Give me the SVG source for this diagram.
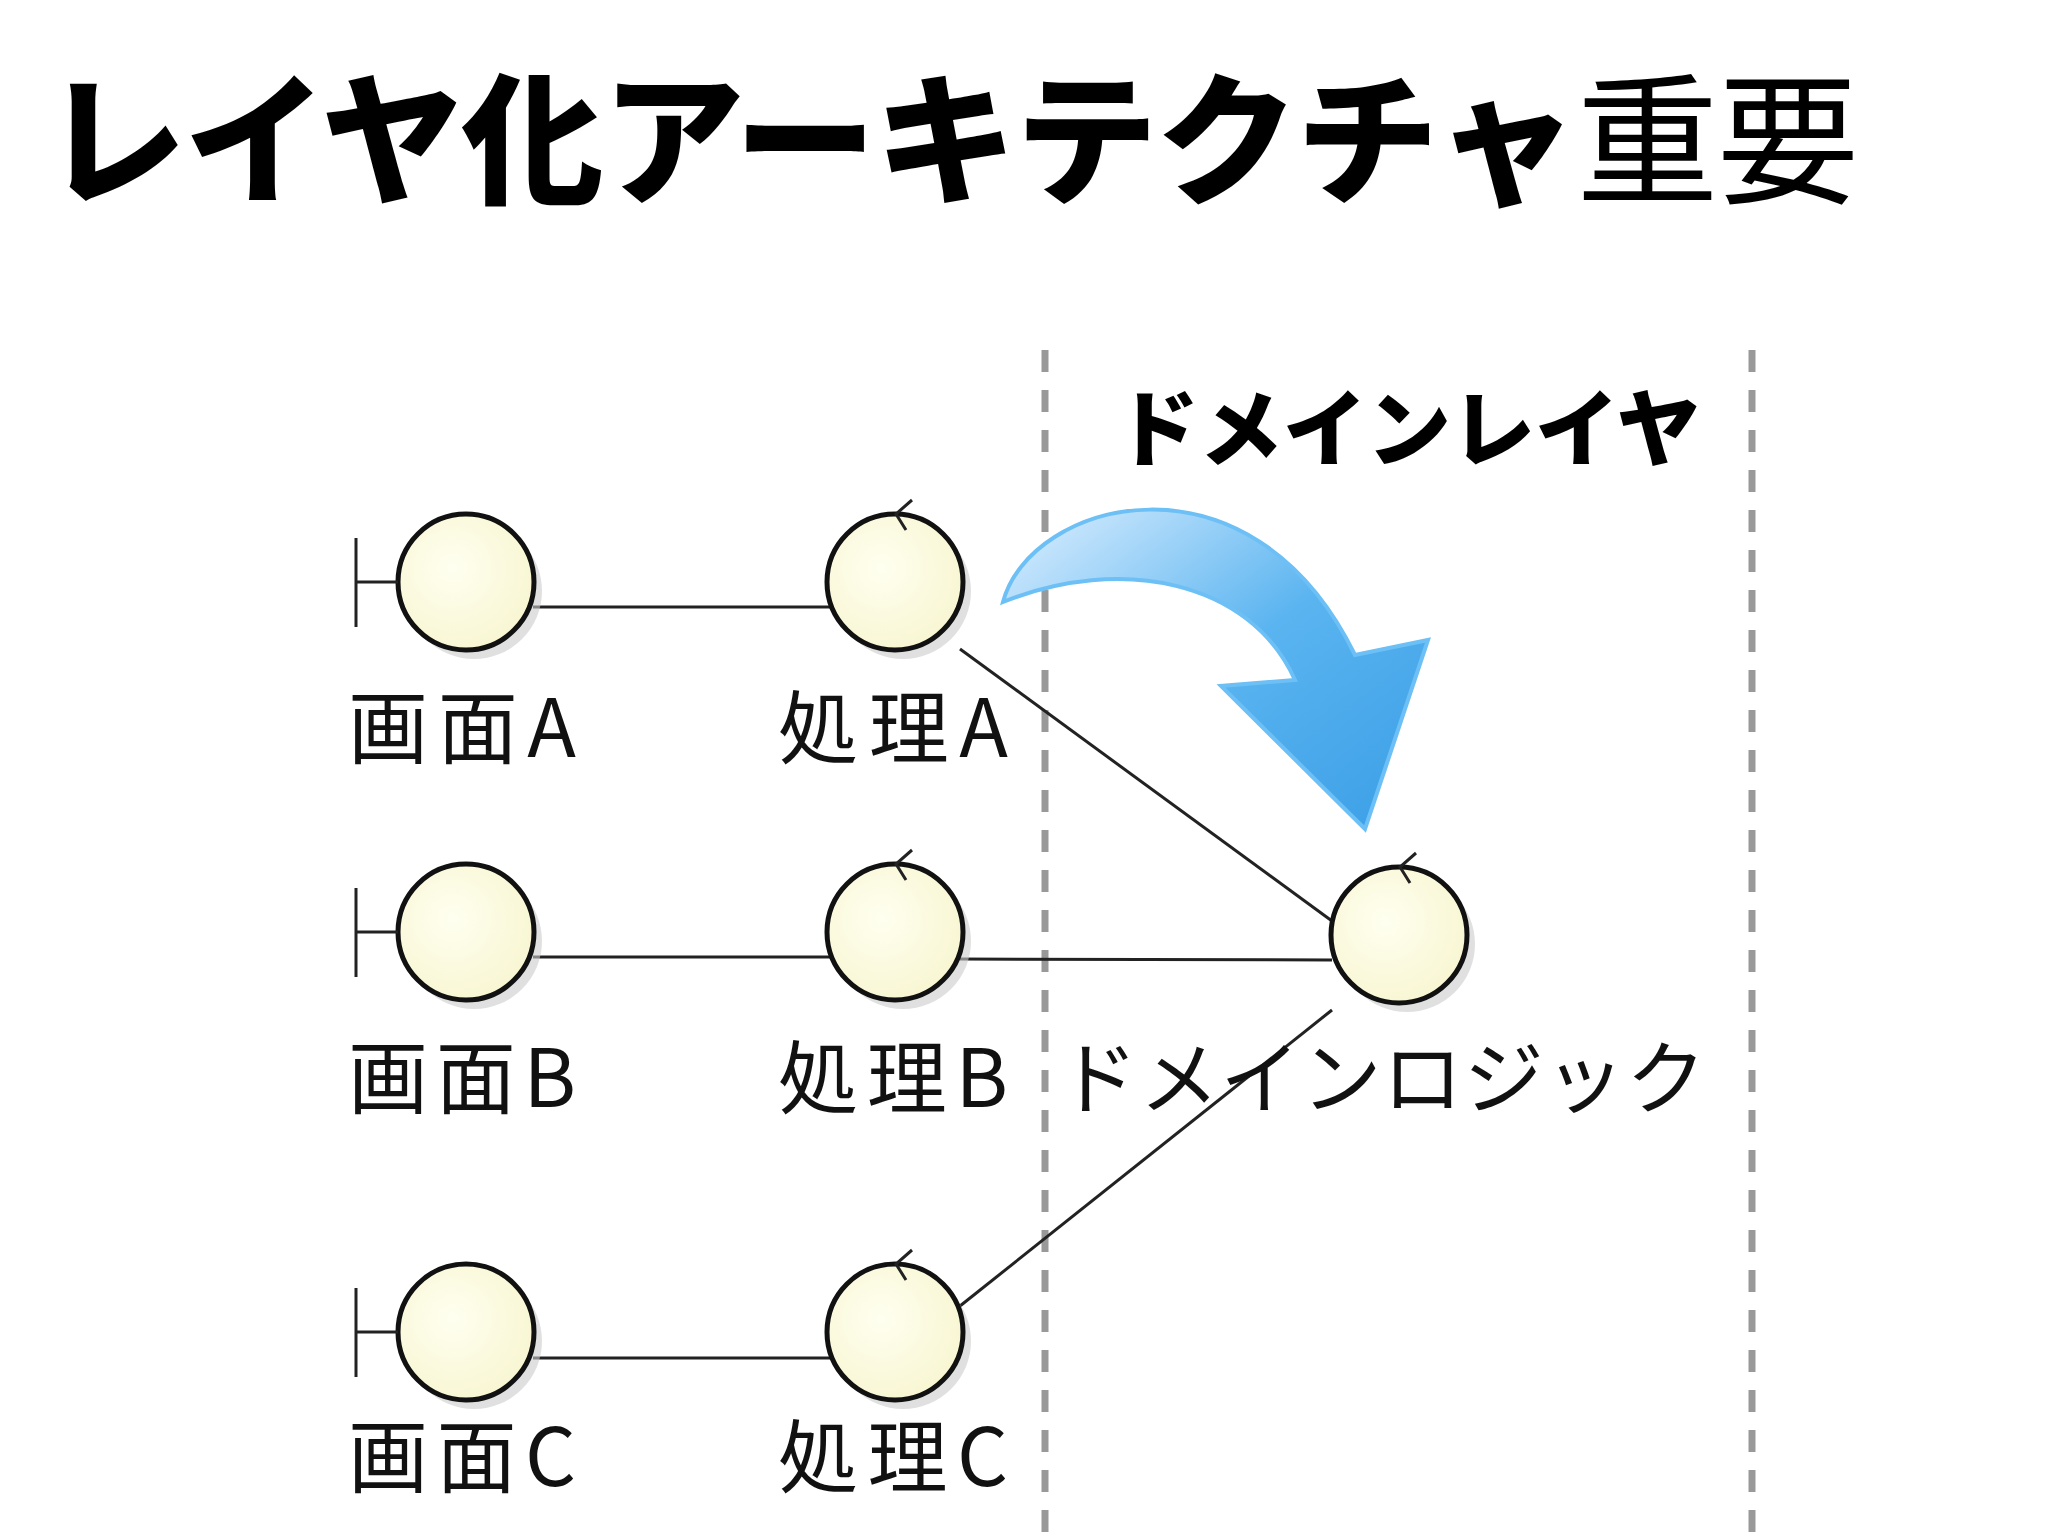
<svg xmlns="http://www.w3.org/2000/svg" width="2048" height="1536" viewBox="0 0 2048 1536">
<defs>
<style>
.c{fill:url(#cg);stroke:#111;stroke-width:5}
.sh{fill:#ccc;opacity:0.6}
.ln{stroke:#222;stroke-width:3;fill:none}
.lb{font-family:"Noto Sans CJK JP","Liberation Sans",sans-serif;font-size:80px;fill:#111}
.dash{stroke:#999;stroke-width:7;stroke-dasharray:22,18}
</style>
<radialGradient id="cg" cx="0.4" cy="0.4" r="0.7"><stop offset="0" stop-color="#fffff0"/><stop offset="1" stop-color="#f7f5cf"/></radialGradient>
<linearGradient id="ag" x1="0" y1="0" x2="1" y2="1"><stop offset="0" stop-color="#dff0ff"/><stop offset="0.5" stop-color="#5ab4f0"/><stop offset="1" stop-color="#3a9ee6"/></linearGradient>
</defs>
<rect width="2048" height="1536" fill="#fff"/>
<text x="44" y="193" font-family="Noto Sans CJK JP,sans-serif" font-size="142" font-weight="900" fill="#000" textLength="1815">レイヤ化アーキテクチャ<tspan font-weight="400">重要</tspan></text>
<g id="layer">
<line class="dash" x1="1045" y1="350" x2="1045" y2="1536"/>
<line class="dash" x1="1752" y1="350" x2="1752" y2="1536"/>
<text x="1115" y="460" font-family="Noto Sans CJK JP,sans-serif" font-size="84" font-weight="900" fill="#000">ドメインレイヤ</text>
</g>
<g id="connectors">
<line class="ln" x1="533" y1="607" x2="830" y2="607"/>
<line class="ln" x1="533" y1="957" x2="830" y2="957"/>
<line class="ln" x1="533" y1="1358" x2="830" y2="1358"/>
<line class="ln" x1="960" y1="649" x2="1332" y2="921"/>
<line class="ln" x1="960" y1="959" x2="1332" y2="960"/>
<line class="ln" x1="960" y1="1306" x2="1332" y2="1010"/>
</g>
<g id="arrow">
<path d="M1003,602 C1030,500 1250,440 1355,655 L1428,640 L1365,829 L1221,686 L1295,680 C1250,580 1120,555 1003,602 Z" fill="url(#ag)" stroke="#6cc0f5" stroke-width="4"/>
</g>
<g id="screenA"><circle class="sh" cx="474" cy="591" r="68"/><circle class="c" cx="466" cy="582" r="68"/><path class="ln" d="M356,538V627M356,582H398" stroke-width="5"/><text class="lb" x="348" y="757" textLength="228">画面A</text></g>
<g id="screenB"><circle class="sh" cx="474" cy="941" r="68"/><circle class="c" cx="466" cy="932" r="68"/><path class="ln" d="M356,888V977M356,932H398" stroke-width="5"/><text class="lb" x="348" y="1107" textLength="228">画面B</text></g>
<g id="screenC"><circle class="sh" cx="474" cy="1341" r="68"/><circle class="c" cx="466" cy="1332" r="68"/><path class="ln" d="M356,1288V1377M356,1332H398" stroke-width="5"/><text class="lb" x="348" y="1486" textLength="228">画面C</text></g>
<g id="procA"><circle class="sh" cx="903" cy="591" r="68"/><circle class="c" cx="895" cy="582" r="68"/><path class="ln" d="M912,500L896,514L906,530" stroke-width="5"/><text class="lb" x="778" y="757" textLength="230">処理A</text></g>
<g id="procB"><circle class="sh" cx="903" cy="941" r="68"/><circle class="c" cx="895" cy="932" r="68"/><path class="ln" d="M912,850L896,864L906,880" stroke-width="5"/><text class="lb" x="778" y="1107" textLength="230">処理B</text></g>
<g id="procC"><circle class="sh" cx="903" cy="1341" r="68"/><circle class="c" cx="895" cy="1332" r="68"/><path class="ln" d="M912,1250L896,1264L906,1280" stroke-width="5"/><text class="lb" x="778" y="1486" textLength="230">処理C</text></g>
<g id="domain"><circle class="sh" cx="1407" cy="944" r="68"/><circle class="c" cx="1399" cy="935" r="68"/><path class="ln" d="M1416,853L1400,867L1410,883" stroke-width="5"/><text class="lb" x="1058" y="1107" textLength="648">ドメインロジック</text></g>
</svg>
